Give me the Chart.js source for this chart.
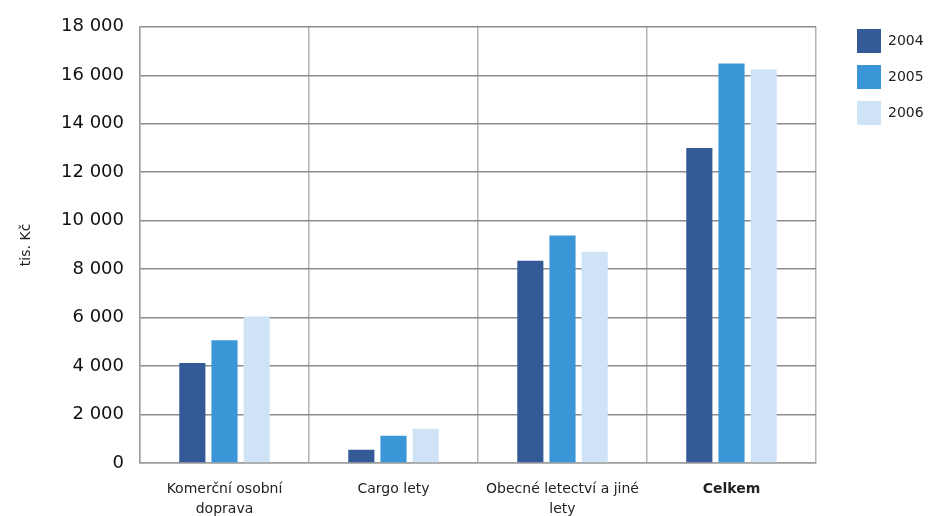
<!DOCTYPE html>
<html>
<head>
<meta charset="utf-8">
<script src="https://cdn.jsdelivr.net/npm/chart.js@4.4.1/dist/chart.umd.min.js"></script>
<style>
html,body{margin:0;padding:0;background:#fff;}
#wrap{width:935px;height:516px;position:relative;}
</style>
</head>
<body>
<div id="wrap"><canvas id="c" width="935" height="516"></canvas></div>
<script>
const categories = [['Komerční osobní','doprava'], 'Cargo lety', ['Obecné letectví a jiné','lety'], 'Celkem'];
const seriesNames = ['2004', '2005', '2006'];
const values2004 = [4130, 550, 8350, 13000];
const values2005 = [5070, 1120, 9390, 16490];
const values2006 = [6050, 1410, 8720, 16240];
const colors = ['#335A96', '#3A96D6', '#CFE3F7'];
const yTitle = 'tis. Kč';

const FONT = '"DejaVu Sans", Verdana, sans-serif';

const legendPlace = {
  id: 'legendPlace',
  beforeLayout(chart) {
    const l = chart.legend;
    if (l && !l._wrappedFit) {
      const f = l.fit;
      l.fit = function () { f.call(this); this.width = 119; };
      l._wrappedFit = true;
    }
  },
  afterLayout(chart) {
    const l = chart.legend;
    if (!l) return;
    l.left += 29; l.right += 29;
    l.top = 17; l.bottom = 17 + 200;
  }
};

new Chart(document.getElementById('c'), {
  type: 'bar',
  data: {
    labels: categories,
    datasets: [values2004, values2005, values2006].map((v, i) => ({
      label: seriesNames[i],
      data: v,
      backgroundColor: colors[i],
      borderWidth: 0,
      categoryPercentage: 0.571,
      barPercentage: 0.8125
    }))
  },
  plugins: [legendPlace],
  options: {
    responsive: false,
    animation: false,
    devicePixelRatio: 1,
    layout: { padding: { left: 18, right: 0, top: 24, bottom: 0 } },
    plugins: {
      tooltip: { enabled: false },
      legend: {
        position: 'right',
        align: 'start',
        labels: {
          boxWidth: 24,
          boxHeight: 24,
          padding: 12,
          color: '#222',
          font: { family: FONT, size: 14 }
        }
      }
    },
    scales: {
      x: {
        offset: true,
        grid: { offset: true, color: '#b4b4b4', lineWidth: 1.5, drawTicks: false },
        border: { display: true, color: '#a0a0a0', width: 1.5 },
        ticks: {
          color: '#222',
          padding: 16,
          maxRotation: 0,
          autoSkip: false,
          font: ctx => ({ family: FONT, size: 14, weight: ctx.index === 3 ? 'bold' : 'normal', lineHeight: 1.45 })
        },
        afterFit: s => { s.height = 53; }
      },
      y: {
        min: 0,
        max: 18000,
        ticks: {
          stepSize: 2000,
          color: '#111',
          padding: 16,
          font: { family: FONT, size: 18 },
          callback: v => String(v).replace(/\B(?=(\d{3})+(?!\d))/g, ' ')
        },
        grid: { color: '#8c8c8c', lineWidth: 1.5, drawTicks: false },
        border: { display: true, color: '#a0a0a0', width: 1.5 },
        title: {
          display: true,
          text: yTitle,
          color: '#222',
          font: { family: FONT, size: 14 },
          padding: { top: 0, bottom: 12 }
        },
        afterFit: s => { s.width = 122; }
      }
    }
  }
});
</script>
</body>
</html>
